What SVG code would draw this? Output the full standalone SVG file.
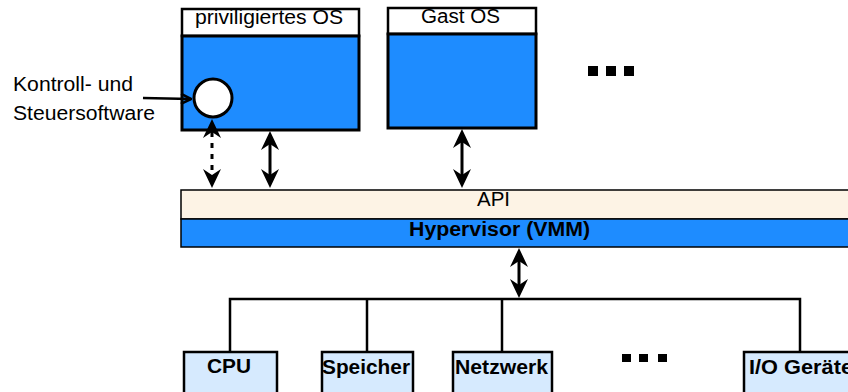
<svg xmlns="http://www.w3.org/2000/svg" width="848" height="392" viewBox="0 0 848 392">
  <style>
    .t { font-family: "Liberation Sans", Arial, sans-serif; font-size: 19.5px; fill: #000; }
    .b { font-weight: bold; }
    .title { fill: #fff; stroke: #000; stroke-width: 2.5; }
    .os { fill: #1e8cff; stroke: #000; stroke-width: 3; }
    .hw { fill: #d6eafe; stroke: #000; stroke-width: 2.5; }
    .wire { fill: none; stroke: #000; stroke-width: 2.5; }
    .shaft { fill: none; stroke: #000; stroke-width: 3; }
    .dash { stroke-dasharray: 5 6; }
    .tip { fill: #000; }
  </style>
  <defs>
    <!-- notched arrow tips, pointing up / down, tip at origin -->
    <path id="tip-up" class="tip" d="M0,0 L9,19 L0,13 L-9,19 z"/>
    <path id="tip-down" class="tip" d="M0,0 L9,-19 L0,-13 L-9,-19 z"/>
    <marker id="open" viewBox="0 0 10 10" refX="9" refY="5" markerWidth="5" markerHeight="5" orient="auto" markerUnits="strokeWidth">
      <path d="M1,1 L9,5 L1,9" fill="none" stroke="#000" stroke-width="2"/>
    </marker>
  </defs>

  <!-- privileged OS -->
  <g id="priv-os">
    <rect class="title" x="182" y="9" width="177" height="27"/>
    <text class="t" x="195" y="24" textLength="148" lengthAdjust="spacingAndGlyphs">priviligiertes OS</text>
    <rect class="os" x="182" y="36" width="177" height="94"/>
    <circle cx="213" cy="98" r="19" fill="#fff" stroke="#000" stroke-width="3"/>
  </g>

  <!-- guest OS -->
  <g id="guest-os">
    <rect class="title" x="388" y="8" width="148" height="26"/>
    <text class="t" x="421" y="23" textLength="79" lengthAdjust="spacingAndGlyphs">Gast OS</text>
    <rect class="os" x="388" y="34" width="148" height="94"/>
  </g>

  <!-- more guests -->
  <g id="more-guests">
    <rect x="588" y="66" width="10" height="10"/>
    <rect x="606" y="66" width="10" height="10"/>
    <rect x="624" y="66" width="10" height="10"/>
  </g>

  <!-- control software label -->
  <g id="control-label">
    <text class="t" x="13" y="91" textLength="120" lengthAdjust="spacingAndGlyphs">Kontroll- und</text>
    <text class="t" x="13" y="120" textLength="142" lengthAdjust="spacingAndGlyphs">Steuersoftware</text>
  </g>

  <!-- API / hypervisor layers -->
  <g id="api">
    <rect x="181" y="190" width="680" height="29" fill="#fdf3e5" stroke="#000" stroke-width="1.5"/>
    <text class="t" x="477" y="206" textLength="33" lengthAdjust="spacingAndGlyphs">API</text>
  </g>
  <g id="hypervisor">
    <rect x="181" y="219" width="680" height="28" fill="#1e8cff" stroke="#000" stroke-width="1.5"/>
    <text class="t b" x="409" y="236" textLength="181" lengthAdjust="spacingAndGlyphs">Hypervisor (VMM)</text>
  </g>

  <!-- hardware -->
  <g id="cpu">
    <rect class="hw" x="184" y="352" width="93" height="46"/>
    <text class="t b" x="207" y="373" textLength="44" lengthAdjust="spacingAndGlyphs">CPU</text>
  </g>
  <g id="speicher">
    <rect class="hw" x="322" y="352" width="91" height="46"/>
    <text class="t b" x="322" y="374" textLength="88" lengthAdjust="spacingAndGlyphs">Speicher</text>
  </g>
  <g id="netzwerk">
    <rect class="hw" x="453" y="352" width="99" height="46"/>
    <text class="t b" x="455" y="374" textLength="93" lengthAdjust="spacingAndGlyphs">Netzwerk</text>
  </g>
  <g id="more-devices">
    <rect x="622" y="354" width="9" height="8"/>
    <rect x="639" y="354" width="9" height="8"/>
    <rect x="658" y="354" width="9" height="8"/>
  </g>
  <g id="io">
    <rect class="hw" x="744" y="352" width="120" height="46"/>
    <text class="t b" x="749" y="374" textLength="104" lengthAdjust="spacingAndGlyphs">I/O Geräte</text>
  </g>

  <!-- connectors -->
  <g id="connectors">
    <line x1="143" y1="98" x2="191" y2="99" stroke="#000" stroke-width="2.5" marker-end="url(#open)"/>

    <line class="shaft dash" x1="212" y1="132" x2="212" y2="176"/>
    <use href="#tip-up" x="212" y="119"/>
    <use href="#tip-down" x="212" y="188"/>

    <line class="shaft" x1="270" y1="140" x2="270" y2="178"/>
    <use href="#tip-up" x="270" y="131"/>
    <use href="#tip-down" x="270" y="188"/>

    <line class="shaft" x1="462" y1="140" x2="462" y2="178"/>
    <use href="#tip-up" x="462" y="129"/>
    <use href="#tip-down" x="462" y="188"/>

    <line class="shaft" x1="519" y1="258" x2="519" y2="290"/>
    <use href="#tip-up" x="519" y="248"/>
    <use href="#tip-down" x="519" y="298"/>

    <polyline class="wire" points="230,352 230,299 800,299 800,352"/>
    <line class="wire" x1="367" y1="299" x2="367" y2="352"/>
    <line class="wire" x1="502" y1="299" x2="502" y2="352"/>
  </g>
</svg>
